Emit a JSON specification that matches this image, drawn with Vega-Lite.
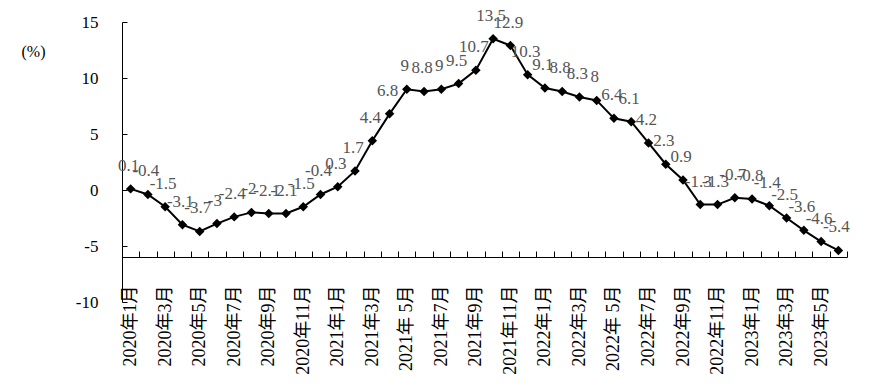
{
  "$schema": "https://vega.github.io/schema/vega-lite/v6.json",
  "width": 725,
  "height": 280,
  "autosize": "none",
  "padding": {"left": 122, "top": 22, "right": 23, "bottom": 88},
  "background": "white",
  "config": {
    "view": {"stroke": null},
    "locale": {"number": {"decimal": ".", "thousands": ",", "grouping": [3], "currency": ["", ""], "minus": "-"}}
  },
  "data": {"values": [
    {"m": "2020年1月", "v": 0.1},
    {"m": "2020年2月", "v": -0.4},
    {"m": "2020年3月", "v": -1.5},
    {"m": "2020年4月", "v": -3.1},
    {"m": "2020年5月", "v": -3.7},
    {"m": "2020年6月", "v": -3.0},
    {"m": "2020年7月", "v": -2.4},
    {"m": "2020年8月", "v": -2.0},
    {"m": "2020年9月", "v": -2.1},
    {"m": "2020年10月", "v": -2.1},
    {"m": "2020年11月", "v": -1.5},
    {"m": "2020年12月", "v": -0.4},
    {"m": "2021年1月", "v": 0.3},
    {"m": "2021年2月", "v": 1.7},
    {"m": "2021年3月", "v": 4.4},
    {"m": "2021年4月", "v": 6.8},
    {"m": "2021年 5月", "v": 9.0},
    {"m": "2021年6月", "v": 8.8},
    {"m": "2021年7月", "v": 9.0},
    {"m": "2021年8月", "v": 9.5},
    {"m": "2021年9月", "v": 10.7},
    {"m": "2021年10月", "v": 13.5},
    {"m": "2021年11月", "v": 12.9},
    {"m": "2021年12月", "v": 10.3},
    {"m": "2022年1月", "v": 9.1},
    {"m": "2022年2月", "v": 8.8},
    {"m": "2022年3月", "v": 8.3},
    {"m": "2022年4月", "v": 8.0},
    {"m": "2022年 5月", "v": 6.4},
    {"m": "2022年6月", "v": 6.1},
    {"m": "2022年7月", "v": 4.2},
    {"m": "2022年8月", "v": 2.3},
    {"m": "2022年9月", "v": 0.9},
    {"m": "2022年10月", "v": -1.3},
    {"m": "2022年11月", "v": -1.3},
    {"m": "2022年12月", "v": -0.7},
    {"m": "2023年1月", "v": -0.8},
    {"m": "2023年2月", "v": -1.4},
    {"m": "2023年3月", "v": -2.5},
    {"m": "2023年4月", "v": -3.6},
    {"m": "2023年5月", "v": -4.6},
    {"m": "2023年6月", "v": -5.4}
  ]},
  "encoding": {
    "x": {
      "field": "m", "type": "ordinal", "sort": null,
      "scale": {"type": "band", "paddingInner": 0, "paddingOuter": 0},
      "axis": {
        "title": null,
        "offset": -45,
        "labelAngle": -90,
        "labelPadding": 34,
        "labelFont": "Liberation Serif, Noto Sans CJK SC, serif",
        "labelFontSize": 18,
        "labelColor": "black",
        "labelExpr": "test(/年(2|4|6|8|10|12)月$/, datum.label) ? '' : datum.label",
        "tickBand": "extent",
        "tickSize": -6,
        "tickColor": "black",
        "domainColor": "black",
        "labelOverlap": false
      }
    },
    "y": {
      "field": "v", "type": "quantitative",
      "scale": {"domain": [-10, 15], "nice": false, "zero": false},
      "axis": {
        "values": [-10, -5, 0, 5, 10, 15],
        "grid": false,
        "title": "(%)",
        "titleAngle": 0,
        "titleX": -89,
        "titleY": 29,
        "titleAlign": "center",
        "titleBaseline": "middle",
        "titleFont": "Liberation Serif, serif",
        "titleFontSize": 16,
        "titleFontWeight": "normal",
        "titleColor": "black",
        "labelFont": "Liberation Serif, serif",
        "labelFontSize": 17,
        "labelColor": "black",
        "labelPadding": 29,
        "tickSize": -5,
        "tickColor": "black",
        "domainColor": "black"
      }
    }
  },
  "layer": [
    {"mark": {"type": "line", "color": "black", "strokeWidth": 2}},
    {"mark": {"type": "point", "shape": "diamond", "filled": true, "color": "black", "size": 90, "opacity": 1}},
    {"mark": {"type": "text", "dx": -2, "dy": -23, "font": "Liberation Serif, serif", "fontSize": 17, "color": "#555555", "baseline": "middle"},
     "encoding": {"text": {"field": "v", "type": "quantitative", "format": ".1~f"}}}
  ]
}
